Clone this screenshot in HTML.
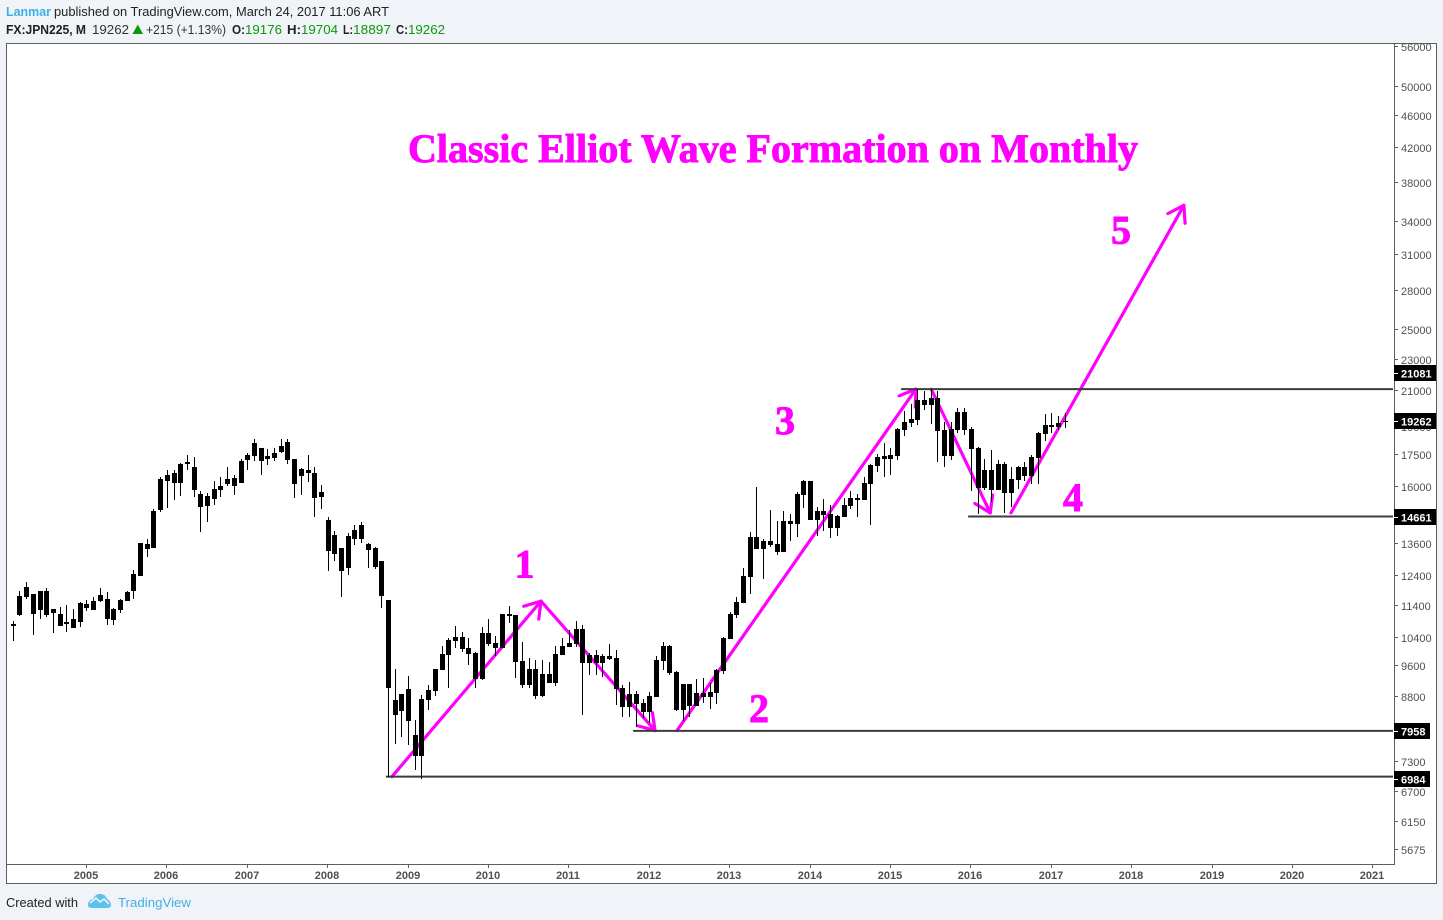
<!DOCTYPE html>
<html lang="en">
<head>
<meta charset="utf-8">
<title>FX:JPN225 Monthly - Classic Elliot Wave Formation</title>
<style>
html,body{margin:0;padding:0;background:#f0f3f7;width:1443px;height:920px;overflow:hidden}
svg{display:block;font-family:"Liberation Sans",Arial,sans-serif}
</style>
</head>
<body>
<svg id="page" xmlns="http://www.w3.org/2000/svg" width="1443" height="920" viewBox="0 0 1443 920">
  <g font-size="12.5">
    <text x="6" y="16" fill="#3fb0e6" font-weight="bold" textLength="45" lengthAdjust="spacingAndGlyphs">Lanmar</text>
    <text x="54" y="16" fill="#222" textLength="335" lengthAdjust="spacingAndGlyphs">published on TradingView.com, March 24, 2017 11:06 ART</text>
    <text x="6" y="34" fill="#222" font-weight="bold" textLength="80" lengthAdjust="spacingAndGlyphs">FX:JPN225, M</text>
    <text x="92" y="34" fill="#333" textLength="37" lengthAdjust="spacingAndGlyphs">19262</text>
    <polygon points="132.5,34 143,34 137.8,24.5" fill="#0a9a0a"/>
    <text x="146" y="34" fill="#333" textLength="80" lengthAdjust="spacingAndGlyphs">+215 (+1.13%)</text>
    <text x="232" y="34" fill="#222" font-weight="bold" textLength="13" lengthAdjust="spacingAndGlyphs">O:</text>
    <text x="245" y="34" fill="#0a9a0a" textLength="37" lengthAdjust="spacingAndGlyphs">19176</text>
    <text x="287" y="34" fill="#222" font-weight="bold" textLength="14" lengthAdjust="spacingAndGlyphs">H:</text>
    <text x="301" y="34" fill="#0a9a0a" textLength="37" lengthAdjust="spacingAndGlyphs">19704</text>
    <text x="343" y="34" fill="#222" font-weight="bold" textLength="10" lengthAdjust="spacingAndGlyphs">L:</text>
    <text x="353" y="34" fill="#0a9a0a" textLength="38" lengthAdjust="spacingAndGlyphs">18897</text>
    <text x="396" y="34" fill="#222" font-weight="bold" textLength="12" lengthAdjust="spacingAndGlyphs">C:</text>
    <text x="408" y="34" fill="#0a9a0a" textLength="37" lengthAdjust="spacingAndGlyphs">19262</text>
  </g>

  <rect x="6.5" y="43.5" width="1430" height="840" fill="#fff" stroke="#5d5d5d" stroke-width="1" shape-rendering="crispEdges"/>
  <line x1="1394.5" y1="44" x2="1394.5" y2="864" stroke="#5d5d5d" shape-rendering="crispEdges"/>
  <line x1="7" y1="864.5" x2="1395" y2="864.5" stroke="#5d5d5d" shape-rendering="crispEdges"/>

  <g id="wave-lines" fill="none" stroke="#ff00ff" stroke-width="3.2" stroke-linecap="round"></g>
  <g id="level-lines"></g>
  <g id="candles" fill="#000" shape-rendering="crispEdges"></g>
  <g id="x-axis"></g>
  <g id="y-axis"></g>
  <g id="badges"></g>

  <g fill="#ff00ff" stroke="#ff00ff" stroke-width="0.9" font-family="'Liberation Serif',serif" font-weight="bold">
    <text x="408" y="162" font-size="40" textLength="730" lengthAdjust="spacingAndGlyphs">Classic Elliot Wave Formation on Monthly</text>
    <text x="524.5" y="577.5" font-size="40" text-anchor="middle">1</text>
    <text x="759" y="722" font-size="40" text-anchor="middle">2</text>
    <text x="785" y="434" font-size="40" text-anchor="middle">3</text>
    <text x="1073" y="511" font-size="40" text-anchor="middle">4</text>
    <text x="1121" y="243.5" font-size="40" text-anchor="middle">5</text>
  </g>

  <g>
    <text x="6" y="907" font-size="13" fill="#222" textLength="72" lengthAdjust="spacingAndGlyphs">Created with</text>
    <g>
      <path d="M88 905 Q88 900 93 899 Q96 893 101 894 Q105 894 107 899 Q111 901 111 905 Q111 908 107 908 L92 908 Q88 908 88 905 Z" fill="#5cc2ea"/>
      <path d="M90 903 L96 898 L100 902 L104 899 L109 904" fill="none" stroke="#f0f3f7" stroke-width="1.6"/>
    </g>
    <text x="118" y="907" font-size="13" fill="#3fb0e6" textLength="73" lengthAdjust="spacingAndGlyphs">TradingView</text>
  </g>
</svg>
<script>
// Chart values
const firstYear = 2004;
const firstMonth = 2;
const opens = [
10740,11067,11652,11752,11227,11853,11259,11099,10848,10663,
10848,11420,11227,11519,11585,10910,11227,11519,11853,12373,
13558,13404,14943,16235,16611,16142,17044,16899,15643,15114,
15420,15823,16096,16375,16142,17239,17438,17842,17438,17338,
17639,18150,17289,16469,16754,16611,15509,14521,13177,13404,
12659,13753,13753,13558,13404,12915,11552,8315,8411,8956,
7875,7416,8679,8905,9457,9872,10275,10393,10071,9928,
9216,10512,10216,10071,11099,11067,9703,9060,9484,8780,
9350,9112,9872,10100,10187,10633,9648,9872,9844,9759,
9787,8982,8507,8830,8605,8387,8754,9703,10129,9403,
8435,9086,8531,8855,8754,8855,9430,10333,11067,11453,
12338,13833,13366,13675,13558,13253,14480,14356,15598,16235,
14521,14901,14773,14193,14647,15114,15465,15376,16096,16947,
17438,17289,17438,18783,19163,19328,20466,20175,20583,18783,
17438,18783,19775,18836,17842,15913,16754,15823,17044,15688,
16281,16899,16469,17338,18570,19054,18944,19176];
const closes = [
10786,11686,11990,11099,11853,11067,11131,10724,10786,10941,
11453,11291,11519,11719,10941,11259,11552,11819,12443,13597,
13366,14901,16328,16516,16142,17044,17141,15823,15071,15554,
15868,16004,16328,16004,17190,17488,18098,17190,17289,17589,
17944,17239,16096,16802,16611,15465,15733,13290,13912,12551,
13873,14112,14315,13328,12694,11686,8982,8679,8830,8197,
7416,8704,8931,9484,9900,10304,10393,10043,9900,9216,
10512,10187,10071,11099,11035,9676,9060,9484,8780,9350,
9112,9900,10129,10216,10633,9648,9872,9648,9648,9844,
8956,8507,8830,8581,8387,8780,9731,10129,9377,8435,
9086,8531,8855,8754,8880,9457,10363,11099,11487,12373,
13833,13366,13675,13520,13253,14480,14356,15643,16235,14521,
14901,14731,14193,14689,15158,15465,15376,16142,16995,17388,
17289,17488,18836,19218,19383,20466,20175,20583,18730,17438,
18836,19775,18783,17791,15913,16754,15823,17044,15688,16328,
16899,16469,17388,18623,19054,18944,19163,19262];
const highs = [
10879,11853,12162,11752,11853,11955,11259,11323,11388,11259,
11487,11552,11652,11955,11819,11291,11585,11853,12587,13597,
13753,14986,16422,16754,16754,17093,17488,17388,15778,15688,
16235,16422,16899,16516,17289,17589,18307,17842,17791,17842,
18307,18307,17289,16850,17488,16899,16050,14647,14072,13404,
13992,14315,14439,13597,13443,12915,11552,9484,8830,9296,
8220,8805,9060,9484,10129,10363,10724,10543,10363,9957,
10693,10941,10422,11099,11356,11067,10245,9787,9731,9731,
9676,10129,10363,10603,10879,10755,9928,10014,9900,10187,
10014,9060,9138,8905,8704,8880,9844,10245,10158,9430,
9086,9086,9216,9243,9112,9484,10393,11163,11652,12659,
14032,15959,13753,14943,14480,14901,14773,15733,16281,16235,
15071,15420,15158,14731,15465,15778,15643,16422,17044,17538,
18098,17842,18890,19832,20233,21060,20940,21060,20940,19218,
19218,20003,20003,18944,17892,17289,17740,17239,17141,16899,
16947,17141,17488,18676,19663,19717,19552,19704];
const lows = [
10275,11035,11585,10452,10941,11004,10512,10724,10543,10663,
10693,11195,11227,11487,10755,10755,11131,11519,11585,12373,
13063,13404,14858,15028,15376,15554,16754,15509,14032,14439,
15158,15509,16004,15598,16142,16754,17190,16516,16995,17190,
17589,17044,15465,15598,16188,14647,14986,12551,12915,11652,
12408,13520,13597,12659,12623,11291,6984,7675,7831,7654,
7125,6944,8435,8780,9457,8982,10071,9957,9593,8982,
9190,10129,9844,10071,10817,9243,8982,8982,8704,8754,
9112,9034,9872,10100,10100,8315,9323,9323,9270,9731,
8556,8291,8291,8058,8244,8150,8754,9457,9323,8411,
8174,8291,8531,8605,8459,8581,9350,10333,10972,11453,
11752,13366,12267,13443,13139,13253,13675,13833,15028,14521,
13873,14072,13793,13873,14647,14986,14647,15376,14315,16658,
16422,16516,17239,18464,18944,19054,19889,19109,17141,16899,
17239,18623,18517,15778,14773,15823,15289,15823,14816,15071,
15868,16235,16096,16096,18202,18623,18783,18897];
const yearLabels = [2005,2006,2007,2008,2009,2010,2011,2012,2013,2014,2015,2016,2017,2018,2019,2020,2021];
const priceTicks = [56000,50000,46000,42000,38000,34000,31000,28000,25000,23000,21000,19000,17500,16000,13600,12400,11400,10400,9600,8800,7300,6700,6150,5675];
const levelPrices = [21081,14661,7958,6984];
const levelStartMonths = [132.6,142.6,92.6,55.7];
const levelBadgeShifts = [-16.2,0.4,0.1,2.4];
const lastPrice = 19262;
const waveFromMonths = [56.6,78.85,99.15,137.1,149];
const waveFromPrices = [6984,11519,7966,21081,14816];
const waveToMonths = [78.85,95.87,134.8,145.9,174.8];
const waveToPrices = [11519,7966,21081,14816,35600];

// Axis functions
const xScale = function (monthIndex) { return 12.7 + 6.7 * monthIndex; };
const yScale = function (price) { return 637 - 350.8 * Math.log(price / 10400); };
const yearToIndex = function (year) { return (year - firstYear) * 12 - (firstMonth - 1); };

const NS = 'http://www.w3.org/2000/svg';
function make(tag, parent, attrs) {
  const el = document.createElementNS(NS, tag);
  for (const k in attrs) el.setAttribute(k, attrs[k]);
  parent.appendChild(el);
  return el;
}

// Wave arrows
const waveGroup = document.getElementById('wave-lines');
waveFromMonths.forEach(function (m, i) {
  const x1 = xScale(m), y1 = yScale(waveFromPrices[i]);
  const x2 = xScale(waveToMonths[i]), y2 = yScale(waveToPrices[i]);
  const line = make('line', waveGroup, {x1: x1, y1: y1, x2: x2, y2: y2});
  
  
  const back = Math.atan2(y1 - y2, x1 - x2);
  [-0.58, 0.58].forEach(function (d) {
    const barb = make('line', waveGroup, {x1: x2, y1: y2, x2: x2 + 18 * Math.cos(back + d), y2: y2 + 18 * Math.sin(back + d)});
    
    
  });
});

// Horizontal levels
const levelGroup = document.getElementById('level-lines');
levelPrices.forEach(function (p, i) {
  const line = make('line', levelGroup, {x1: xScale(levelStartMonths[i]), x2: 1393, y1: yScale(p), y2: yScale(p), stroke: '#3c3c3c', 'stroke-width': 2});
  
  
});

// Candles
const candleGroup = document.getElementById('candles');
opens.forEach(function (o, i) {
  const cx = Math.round(xScale(i));
  const top = Math.round(yScale(Math.max(o, closes[i])));
  const bottom = Math.round(yScale(Math.min(o, closes[i])));
  const hi = Math.round(yScale(highs[i]));
  const lo = Math.round(yScale(lows[i]));
  const wick = make('rect', candleGroup, {x: cx, y: hi, width: 1, height: Math.max(lo - hi, 1)});
  
  
  const body = make('rect', candleGroup, {x: cx - 2, y: top, width: 5, height: Math.max(bottom - top, 1)});
  
  
});

// Time axis
const xAxis = document.getElementById('x-axis');
yearLabels.forEach(function (year) {
  const px = Math.round(xScale(yearToIndex(year)) - 0.4);
  const tick = make('line', xAxis, {x1: px + 0.5, x2: px + 0.5, y1: 865, y2: 868, stroke: '#5d5d5d'});
  
  
  const label = make('text', xAxis, {x: px, y: 879, 'text-anchor': 'middle', 'font-size': 11, 'font-weight': 'bold', fill: '#505050'});
  
  
  label.textContent = year;
});

// Price axis
const yAxis = document.getElementById('y-axis');
priceTicks.forEach(function (p) {
  const y = Math.round(yScale(p)) + 0.5;
  const tick = make('line', yAxis, {x1: 1395, x2: 1398, y1: y, y2: y, stroke: '#5d5d5d'});
  
  
  const label = make('text', yAxis, {x: 1401, y: y + 4.5, 'font-size': 11, fill: '#505050'});
  
  
  label.textContent = p;
});

// Price badges
const badgeGroup = document.getElementById('badges');
function addBadge(price, shift) {
  const y = Math.round(yScale(price) + shift);
  const text = String(price);
  const box = make('rect', badgeGroup, {x: 1394, y: y - 8, width: text.length * 6 + 12, height: 16, fill: '#000', 'shape-rendering': 'crispEdges'});
  
  
  const tick = make('line', badgeGroup, {x1: 1394, x2: 1398, y1: y + 0.5, y2: y + 0.5, stroke: '#fff'});
  
  
  const label = make('text', badgeGroup, {x: 1401, y: y + 4.5, 'font-size': 11, 'font-weight': 'bold', fill: '#fff'});
  
  
  label.textContent = text;
}
levelPrices.forEach(function (p, i) { addBadge(p, levelBadgeShifts[i]); });
addBadge(lastPrice, 0);
</script>
</body>
</html>
